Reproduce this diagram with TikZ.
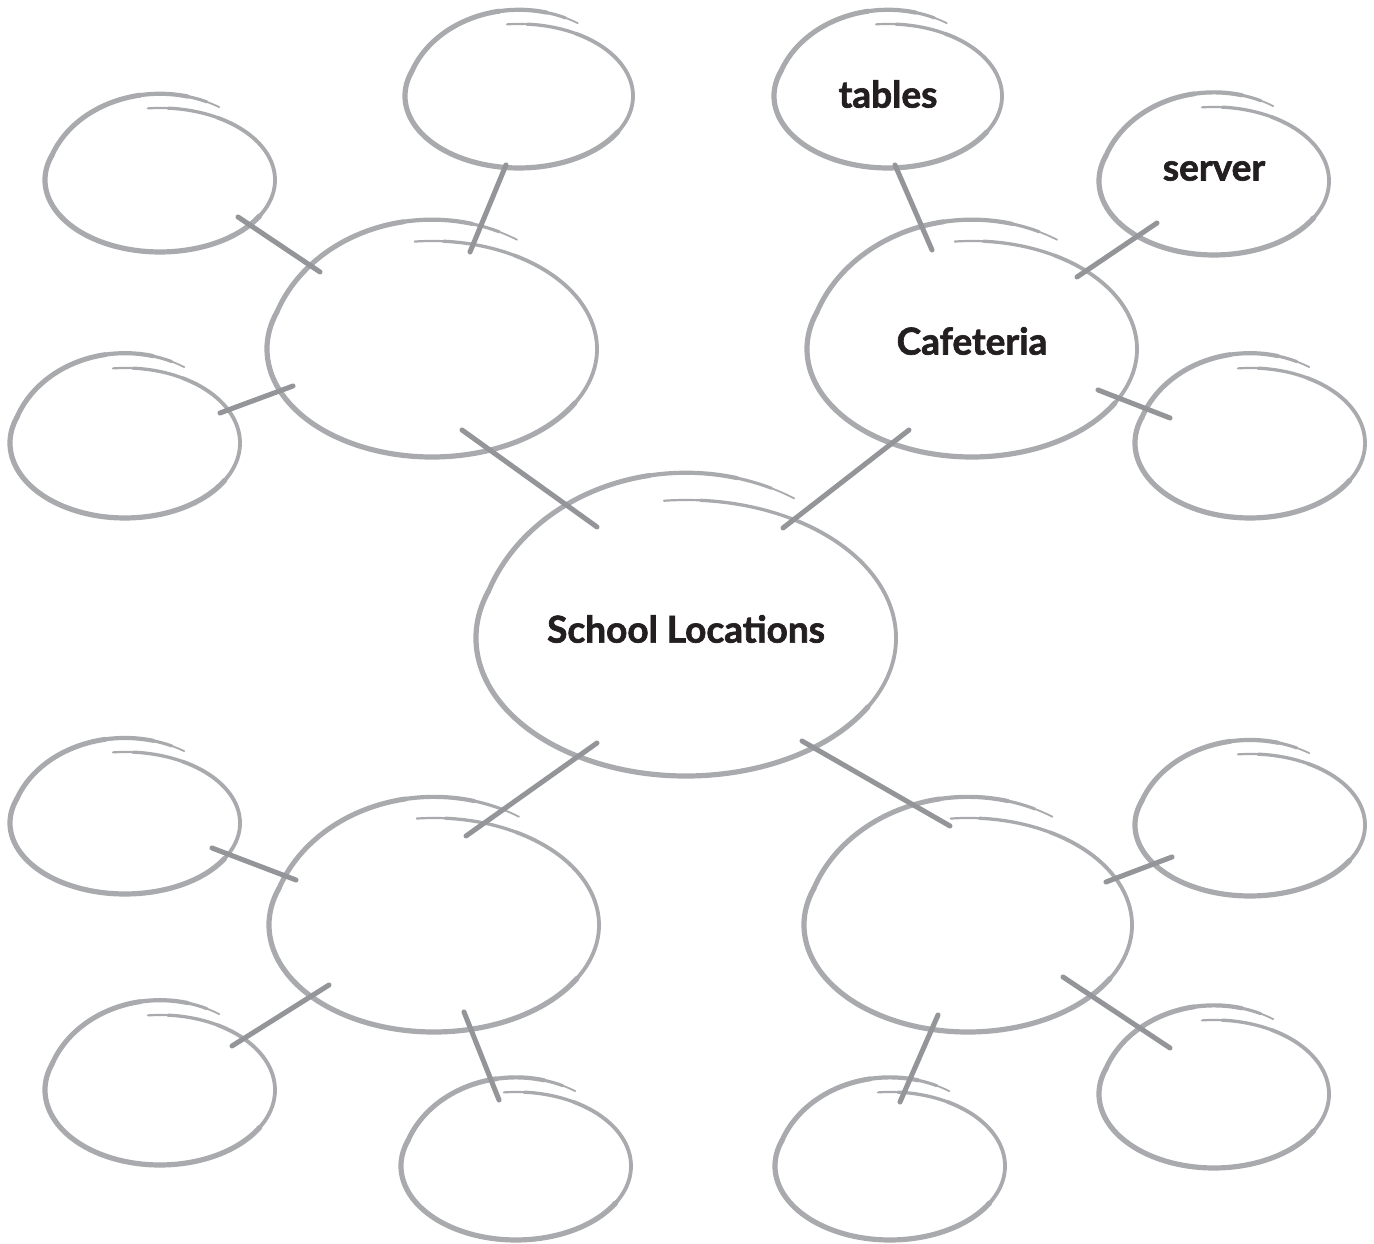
\documentclass[tikz,border=0pt]{standalone}
\usepackage{fontspec}
\setmainfont{Lato}[BoldFeatures={FakeBold=1.8}]
\usetikzlibrary{shapes.geometric}
\definecolor{ringgray}{HTML}{A9AAAD}
\definecolor{linkgray}{HTML}{939598}
\definecolor{inkblack}{HTML}{231F20}
\tikzset{
  bub/.style={ellipse, draw=none, inner sep=0pt, font=\fontsize{37}{42}\selectfont\bfseries, text=inkblack},
  ring/.style={draw=ringgray, line cap=round},
  link/.style={draw=linkgray, line width=5pt, line cap=round},
}
% center, rx, ry, start angle, end angle, width
\newcommand\bubseg[6]{%
  \draw[ring, line width=#6pt] (#1) ++(#4:#2pt and #3pt)
    arc[start angle=#4, end angle=#5, x radius=#2pt, y radius=#3pt];
}
% name, cx, cy (from top), rx, ry, text lift, text
\newcommand\bubble[7]{%
  \node[bub, minimum width=#4*2pt, minimum height=#5*2pt] (#1) at (#2,1244-#3+#6) {#7};
  \pgfmathsetmacro\bubOY{1.3*#5}%
  \pgfmathsetmacro\bubSH{0.1026*#5}%
  \path (#2,1244-#3) coordinate (#1-ic) ++(0,-\bubSH) coordinate (#1-oc);
  \bubseg{#1-ic}{#4}{#5}{96}{86}{2.2}
  \bubseg{#1-ic}{#4}{#5}{86}{60}{3.3}
  \bubseg{#1-ic}{#4}{#5}{60}{-30}{3.8}
  \bubseg{#1-ic}{#4}{#5}{-30}{-200}{5.2}
  \bubseg{#1-oc}{#4}{\bubOY}{160}{100}{5}
  \bubseg{#1-oc}{#4}{\bubOY}{100}{76}{4.2}
  \bubseg{#1-oc}{#4}{\bubOY}{76}{66}{3.1}
  \bubseg{#1-oc}{#4}{\bubOY}{66}{59}{1.8}
}
\newcommand\spot[3]{\coordinate (#1) at (#2,1244-#3);}
\begin{document}
\begin{tikzpicture}[x=1pt,y=1pt]
\fill[white] (0,0) rectangle (1374,1244);
\useasboundingbox (0,0) rectangle (1374,1244);
\spot{m1}{597}{527}\spot{t1}{462}{430}
\spot{m2}{783}{528}\spot{r1}{909}{430}
\spot{m3}{597}{743}\spot{b1}{466}{836}
\spot{m4}{802}{741}\spot{d1}{950}{826}
\spot{t2}{470}{252}\spot{tA}{506}{165}
\spot{t3}{320}{272}\spot{tB}{238}{217}
\spot{t4}{293}{386}\spot{tC}{220}{413}
\spot{r2}{932}{250}\spot{rA}{895}{165}
\spot{r3}{1077}{277}\spot{rB}{1157}{223}
\spot{r4}{1098}{390}\spot{rC}{1170}{418}
\spot{b2}{296}{880}\spot{bA}{212}{848}
\spot{b3}{329}{985}\spot{bB}{232}{1046}
\spot{b4}{464}{1012}\spot{bC}{499}{1100}
\spot{d2}{1106}{882}\spot{dA}{1172}{857}
\spot{d3}{1063}{977}\spot{dB}{1170}{1048}
\spot{d4}{938}{1015}\spot{dC}{900}{1102}
\bubble{main}{686}{638}{210}{138}{9}{School Locations}
\bubble{tl}{432}{349}{165}{108}{0}{}
\bubble{tr}{972}{349}{165}{108}{8}{Cafeteria}
\bubble{bl}{434}{925}{165}{107}{0}{}
\bubble{br}{968}{925}{164}{107}{0}{}
\bubble{tlA}{519}{96}{114}{72}{2}{}
\bubble{tlB}{160}{180}{115}{72}{0}{}
\bubble{tlC}{125}{443}{115}{75}{0}{}
\bubble{trA}{888}{96}{114}{72}{2}{tables}
\bubble{trB}{1214}{181}{115}{74}{10}{server}
\bubble{trC}{1250}{443}{115}{75}{0}{}
\bubble{blA}{125}{823}{115}{71}{0}{}
\bubble{blB}{160}{1090}{115}{75}{0}{}
\bubble{blC}{516}{1166}{115}{74}{0}{}
\bubble{brA}{1250}{825}{115}{71}{0}{}
\bubble{brB}{1214}{1094}{115}{74}{0}{}
\bubble{brC}{890}{1166}{115}{74}{0}{}
\draw[link] (m1) -- (t1);
\draw[link] (m2) -- (r1);
\draw[link] (m3) -- (b1);
\draw[link] (m4) -- (d1);
\draw[link] (t2) -- (tA);
\draw[link] (t3) -- (tB);
\draw[link] (t4) -- (tC);
\draw[link] (r2) -- (rA);
\draw[link] (r3) -- (rB);
\draw[link] (r4) -- (rC);
\draw[link] (b2) -- (bA);
\draw[link] (b3) -- (bB);
\draw[link] (b4) -- (bC);
\draw[link] (d2) -- (dA);
\draw[link] (d3) -- (dB);
\draw[link] (d4) -- (dC);
\end{tikzpicture}
\end{document}
